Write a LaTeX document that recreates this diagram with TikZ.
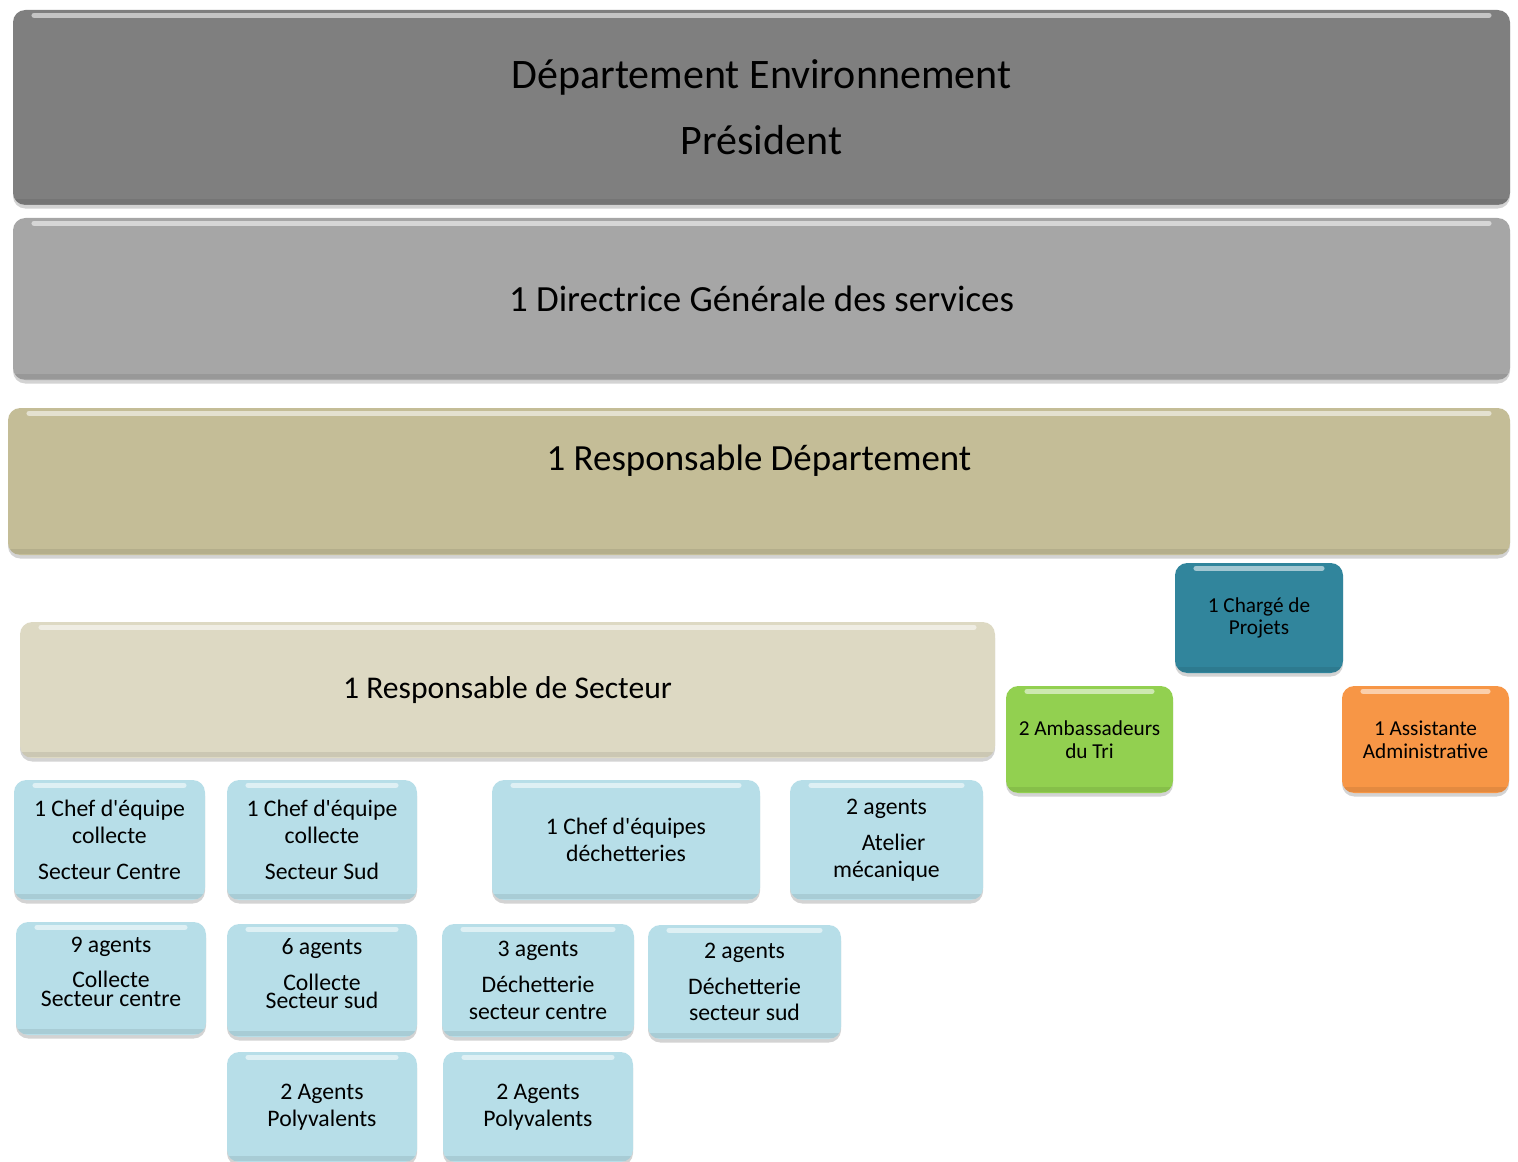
\documentclass[tikz,border=0pt]{standalone}
\usepackage{fontspec}
\setmainfont{Carlito}
\usetikzlibrary{shadows}
\definecolor{darkgrey}{HTML}{7F7F7F}
\definecolor{midgrey}{HTML}{A6A6A6}
\definecolor{khaki}{HTML}{C4BD97}
\definecolor{beige}{HTML}{DDD9C3}
\definecolor{teal}{HTML}{31859C}
\definecolor{leaf}{HTML}{92D050}
\definecolor{tangerine}{HTML}{F79646}
\definecolor{iceblue}{HTML}{B7DEE8}
\newcommand{\apos}{\textquotesingle}
\begin{document}
\begin{tikzpicture}[x=0.02cm,y=-0.02cm,
    box/.style 2 args={rounded corners=7pt,inner sep=0pt,align=center,
      minimum width=#1*0.02cm,minimum height=#2*0.02cm,
      drop shadow={shadow xshift=0pt,shadow yshift=-2pt,opacity=.35},
      path picture={
        \draw[white,opacity=.55,line width=3pt,line cap=round]
          ([xshift=12pt,yshift=-3pt]path picture bounding box.north west) --
          ([xshift=-12pt,yshift=-3pt]path picture bounding box.north east);
        \draw[black,opacity=.08,line width=3pt]
          ([yshift=2pt]path picture bounding box.south west) --
          ([yshift=2pt]path picture bounding box.south east);}},
    unit/.style={fill=iceblue,font=\fontsize{13.5}{15.3}\selectfont},
    raised/.style={text depth=0.28cm},
    staff/.style={font=\fontsize{12.1}{13}\selectfont}]
  \useasboundingbox (0,0) rectangle (1518,1162);
  % direction
  \node[box={1497}{195},fill=darkgrey,font=\fontsize{23.9}{37.4}\selectfont]
    (dept) at (761.5,107.5) {Département Environnement\\Président};
  \node[box={1497}{162},fill=midgrey,font=\fontsize{21}{25}\selectfont]
    (dgs) at (761.5,299) {1 Directrice Générale des services};
  \node[box={1502}{147},fill=khaki,font=\fontsize{21}{25}\selectfont,text depth=0.95cm]
    (respdept) at (759,481.5) {1 Responsable Département};
  \node[box={975}{136},fill=beige,font=\fontsize{18}{22}\selectfont]
    (respsect) at (507.5,690) {1 Responsable de Secteur};
  % rattaches au responsable
  \node[box={168}{110},fill=teal,staff] (projets) at (1259,618) {1 Chargé de\\Projets};
  \node[box={167}{107},fill=leaf,staff] (ambass) at (1089.5,739.5) {2 Ambassadeurs\\du Tri};
  \node[box={167}{107},fill=tangerine,staff] (assist) at (1425.5,739.5) {1 Assistante\\Administrative};
  % chefs d'equipe
  \node[box={191}{120},unit] (chefcentre) at (109.5,840)
    {1 Chef d\apos équipe\\collecte\\[5pt]Secteur Centre};
  \node[box={190}{120},unit] (chefsud) at (322,840)
    {1 Chef d\apos équipe\\collecte\\[5pt]Secteur Sud};
  \node[box={268}{120},unit] (chefdech) at (626,840)
    {1 Chef d\apos équipes\\déchetteries};
  \node[box={193}{120},unit] (atelier) at (886.5,840)
    {2 agents\\[5pt]\hspace*{8pt}Atelier\\mécanique};
  % agents
  \node[box={190}{113},unit,raised] (agcentre) at (111,978.5)
    {9 agents\\[5pt]Collecte\\[-5pt]Secteur centre};
  \node[box={190}{113},unit,raised] (agsud) at (322,980.5)
    {6 agents\\[5pt]Collecte\\[-5pt]Secteur sud};
  \node[box={192}{113},unit] (dechcentre) at (538,980.5)
    {3 agents\\[5pt]Déchetterie\\secteur centre};
  \node[box={193}{114},unit] (dechsud) at (744.5,982)
    {2 agents\\[5pt]Déchetterie\\secteur sud};
  \foreach \n/\x in {polysud/322,polydech/538}
    \node[box={190}{110},unit] (\n) at (\x,1107) {2 Agents\\Polyvalents};
\end{tikzpicture}
\end{document}
